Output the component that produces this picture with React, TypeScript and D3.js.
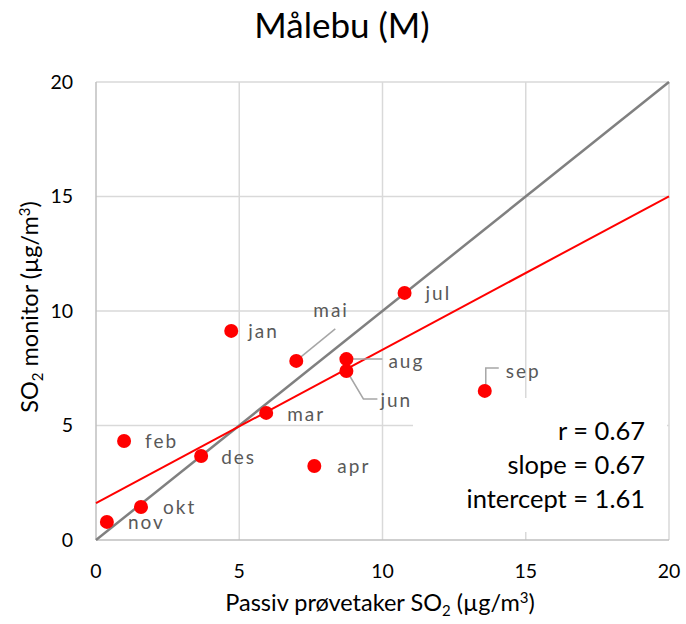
import React from "react";
import * as d3 from "d3";

// monthly values
const months = ["jan", "feb", "mar", "apr", "mai", "jun", "jul", "aug", "sep", "okt", "nov", "des"];
const passive = [4.72, 0.98, 5.94, 7.62, 6.99, 8.74, 10.77, 8.74, 13.57, 1.57, 0.38, 3.67];
const monitor = [9.13, 4.32, 5.55, 3.23, 7.82, 7.38, 10.79, 7.9, 6.51, 1.44, 0.79, 3.67];
const ticks = [0, 5, 10, 15, 20];
const slope = 0.67;
const intercept = 1.61;
const statLines = ["r = 0.67", "slope = 0.67", "intercept = 1.61"];

// label placement relative to the point (px) and leader lines
const labelPos: Record<string, { dx: number; dy: number; leader?: [number, number][] }> = {
  jan: { dx: 17, dy: 0 },
  feb: { dx: 21, dy: 0 },
  mar: { dx: 21, dy: 1 },
  apr: { dx: 23, dy: 0 },
  mai: { dx: 17, dy: -51, leader: [[1, -1], [39, -32]] },
  jun: { dx: 34, dy: 29, leader: [[1, 1], [17, 28], [31, 28]] },
  jul: { dx: 21, dy: 0 },
  aug: { dx: 42, dy: 2, leader: [[2, 0], [36, 0]] },
  sep: { dx: 21, dy: -20, leader: [[1, 0], [1, -23], [14, -23]] },
  okt: { dx: 22, dy: 0 },
  nov: { dx: 21, dy: 0 },
  des: { dx: 20, dy: 1 },
};

const W = 686;
const H = 624;
const left = 96, right = 669, top = 82, bottom = 540;
const font = "Lato, 'Open Sans', sans-serif";

export default function App() {
  const x = d3.scaleLinear().domain([0, 20]).range([left, right]);
  const y = d3.scaleLinear().domain([0, 20]).range([bottom, top]);
  const line = d3.line<[number, number]>().x((d) => x(d[0])).y((d) => y(d[1]));
  const fit: [number, number][] = [0, 20].map((v) => [v, slope * v + intercept]);

  return (
    <svg width={W} height={H} style={{ position: "absolute", left: 0, top: 0, background: "#fff" }} fontFamily={font}>
      {/* grid */}
      {ticks.slice(1).map((t) => (
        <line key={"gx" + t} x1={x(t)} x2={x(t)} y1={top} y2={bottom} stroke="#d9d9d9" strokeWidth={1.5} />
      ))}
      {ticks.slice(1).map((t) => (
        <line key={"gy" + t} x1={left} x2={right} y1={y(t)} y2={y(t)} stroke="#d9d9d9" strokeWidth={1.5} />
      ))}
      <line x1={left} x2={left} y1={top} y2={bottom} stroke="#bfbfbf" strokeWidth={1.5} />
      <line x1={left} x2={right} y1={bottom} y2={bottom} stroke="#bfbfbf" strokeWidth={1.5} />

      {/* stats box hides grid */}
      <rect x={413} y={398} width={254} height={134} fill="#fff" />

      {/* tick labels */}
      {ticks.map((t) => (
        <text key={"ty" + t} x={73} y={y(t)} dy="0.35em" textAnchor="end" fontSize={19.5} fill="#000">{t}</text>
      ))}
      {ticks.map((t) => (
        <text key={"tx" + t} x={x(t)} y={578} textAnchor="middle" fontSize={19.5} fill="#000">{t}</text>
      ))}

      {/* lines */}
      <path d={line([[0, 0], [20, 20]]) || ""} stroke="#808080" strokeWidth={2.5} fill="none" />
      <path d={line(fit) || ""} stroke="#ff0000" strokeWidth={2} fill="none" />

      {/* leader lines */}
      {months.map((m, i) => {
        const lp = labelPos[m];
        if (!lp.leader) return null;
        const px = x(passive[i]);
        const py = y(monitor[i]);
        const pts = lp.leader.map((p) => `${px + p[0]},${py + p[1]}`).join(" ");
        return <polyline key={"l" + m} points={pts} fill="none" stroke="#a6a6a6" strokeWidth={1.5} />;
      })}

      {/* points */}
      {months.map((m, i) => (
        <circle key={"p" + m} cx={x(passive[i])} cy={y(monitor[i])} r={7} fill="#ff0000" />
      ))}

      {/* point labels */}
      {months.map((m, i) => {
        const lp = labelPos[m];
        return (
          <text key={"t" + m} x={x(passive[i]) + lp.dx} y={y(monitor[i]) + lp.dy} dy="0.35em" fontSize={19} fill="#595959" letterSpacing={2}>
            {m}
          </text>
        );
      })}

      {/* stats */}
      {statLines.map((s, i) => (
        <text key={s} x={645} y={431 + i * 34} dy="0.35em" textAnchor="end" fontSize={25.5} fill="#000">{s}</text>
      ))}

      {/* title */}
      <text x={342} y={38} textAnchor="middle" fontSize={35} fill="#000">Målebu (M)</text>

      {/* axis titles */}
      <text x={380} y={611} textAnchor="middle" fontSize={23.5} fill="#000">
        Passiv prøvetaker SO<tspan fontSize={15} dy={5}>2</tspan><tspan dy={-5}> (µg/m</tspan><tspan fontSize={15} dy={-8}>3</tspan><tspan dy={8}>)</tspan>
      </text>
      <text transform="translate(38,307) rotate(-90)" textAnchor="middle" fontSize={23.5} fill="#000">
        SO<tspan fontSize={15} dy={5}>2</tspan><tspan dy={-5}> monitor (µg/m</tspan><tspan fontSize={15} dy={-8}>3</tspan><tspan dy={8}>)</tspan>
      </text>
    </svg>
  );
}
